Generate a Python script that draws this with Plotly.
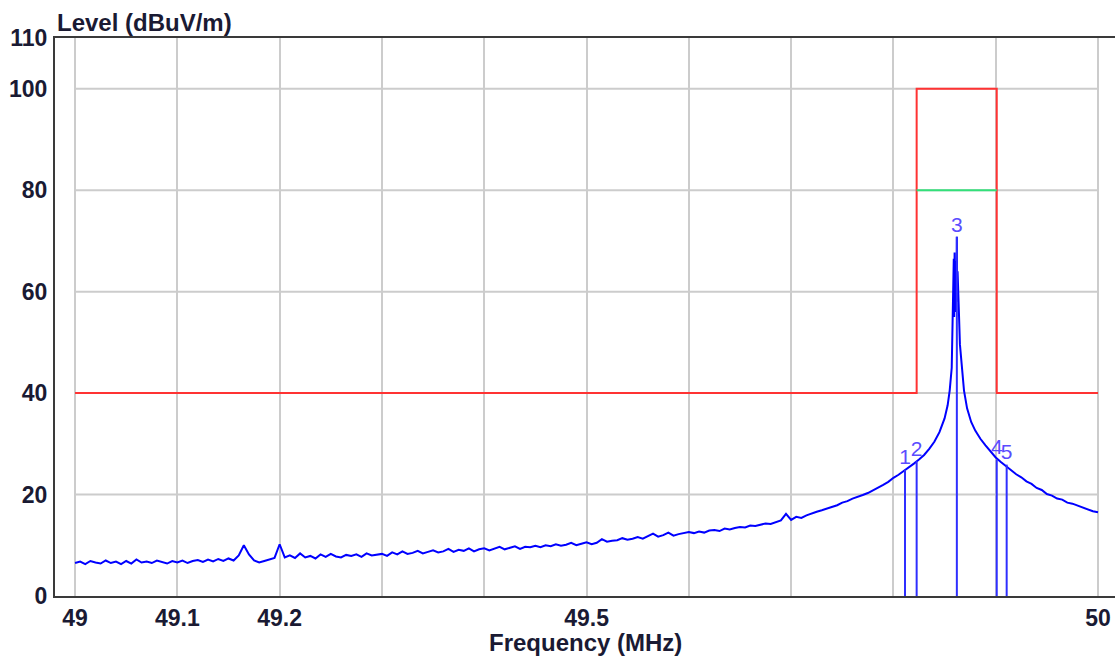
import plotly.graph_objects as go

# ---- data ----
# uniform sweep 49.000 .. 49.800 MHz, step 0.005 MHz
sweep_start = 49.0
sweep_step = 0.005
level_sweep = [
    6.5, 6.8, 6.3, 6.9, 6.6, 6.4, 7.0, 6.5, 6.8, 6.3,
    6.9, 6.4, 7.2, 6.6, 6.8, 6.5, 7.0, 6.7, 6.4, 6.9,
    6.6, 7.0, 6.5, 6.9, 7.1, 6.7, 7.2, 6.8, 7.3, 6.9,
    7.4, 7.0, 8.0, 10.0, 8.2, 7.0, 6.6, 6.9, 7.2, 7.5,
    10.2, 7.6, 8.0, 7.5, 8.4, 7.6, 7.9, 7.4, 8.2, 7.7,
    8.3, 7.8, 7.6, 8.1, 7.9, 8.2, 7.7, 8.4, 8.0, 8.1,
    8.3, 7.9, 8.6, 8.2, 8.8, 8.3, 8.5, 8.9, 8.4, 8.7,
    9.0, 8.6, 8.8, 9.3, 8.7, 9.1, 8.9, 9.4, 8.8, 9.2,
    9.4, 9.0, 9.3, 9.7, 9.2, 9.5, 9.8, 9.3, 9.7, 9.6,
    9.9, 9.6, 10.0, 9.8, 10.2, 9.9, 10.1, 10.5, 10.0, 10.3,
    10.6, 10.2, 10.5, 11.2, 10.7, 10.9, 11.0, 11.4, 11.1, 11.3,
    11.6, 11.3, 11.8, 12.3, 11.7, 12.0, 12.5, 11.9, 12.2, 12.4,
    12.6, 12.4, 12.7, 12.5, 12.9, 13.0, 12.8, 13.3, 13.1, 13.4,
    13.6, 13.5, 13.9, 13.8, 14.1, 14.3, 14.2, 14.6, 14.9, 16.2,
    15.0, 15.6, 15.4, 15.9, 16.3, 16.6, 16.9, 17.2, 17.6, 17.9,
    18.4, 18.7, 19.2, 19.5, 19.9, 20.3, 20.8, 21.3, 21.9, 22.5,
    23.3,
]
# peak region and upper band
freq_peak = [
    49.805, 49.810, 49.815, 49.820, 49.825, 49.830, 49.835, 49.840, 49.845,
    49.850, 49.853, 49.855, 49.857, 49.858, 49.8585, 49.859, 49.8594, 49.8598,
    49.8602, 49.8606, 49.861, 49.8614, 49.8618, 49.862, 49.8623, 49.8627,
    49.863, 49.8634, 49.864, 49.865, 49.867, 49.869, 49.872, 49.876, 49.880,
    49.885, 49.890, 49.895, 49.900, 49.905, 49.910, 49.915, 49.920, 49.925,
    49.930, 49.935, 49.940, 49.945, 49.950, 49.955, 49.960, 49.965, 49.970,
    49.975, 49.980, 49.985, 49.990, 49.995, 50.000,
]
level_peak = [
    23.9, 24.6, 25.3, 26.1, 26.9, 27.8, 29.0, 30.4, 32.3,
    35.0, 37.6, 40.5, 45.0, 53.0, 57.0, 66.5, 55.0, 67.7,
    56.0, 66.0, 57.0, 65.0, 58.0, 70.8, 59.0, 64.0,
    60.0, 63.7, 56.0, 49.6, 44.3, 40.5, 37.0, 34.3, 32.6,
    31.0, 29.7, 28.4, 27.3, 26.4, 25.6, 24.9, 24.0, 23.4,
    22.6, 22.1, 21.3, 20.9, 20.1, 19.8, 19.2, 19.0, 18.4,
    18.2, 17.8, 17.4, 17.1, 16.7, 16.5,
]

# limit lines
limit_freq = [49.0, 49.8227, 49.8227, 49.901, 49.901, 50.0]
limit_level = [40, 40, 100, 100, 40, 40]
limit2_freq = [49.8227, 49.901]
limit2_level = [80, 80]

# markers
marker_freq = [49.8113, 49.8227, 49.862, 49.901, 49.9107]
marker_level = [24.9, 26.6, 70.8, 26.9, 25.9]
marker_label = ["1", "2", "3", "4", "5"]

x_tickvals = [49.0, 49.1, 49.2, 49.3, 49.4, 49.5, 49.6, 49.7, 49.8, 49.9, 50.0]
x_ticktext = ["49", "49.1", "49.2", "", "", "49.5", "", "", "", "", "50"]
y_tickvals = [0, 20, 40, 60, 80, 100, 110]
y_gridvals = [20, 40, 60, 80, 100]

# ---- build ----
freq_sweep = [round(sweep_start + i * sweep_step, 4) for i in range(len(level_sweep))]
freq = freq_sweep + freq_peak
level = level_sweep + level_peak

FONT = "Liberation Sans, Arial, sans-serif"
TXT = "#1a1a33"

fig = go.Figure()

shapes = []
for yv in y_gridvals:
    shapes.append(dict(type="line", xref="x", yref="y", x0=49.0, x1=50.0, y0=yv, y1=yv,
                       line=dict(color="#cccccc", width=2), layer="below"))

fig.add_trace(go.Scatter(x=limit_freq, y=limit_level, mode="lines",
                         line=dict(color="#ff3333", width=2), hoverinfo="skip", showlegend=False))
fig.add_trace(go.Scatter(x=limit2_freq, y=limit2_level, mode="lines",
                         line=dict(color="#33e07a", width=2), hoverinfo="skip", showlegend=False))
fig.add_trace(go.Scatter(x=freq, y=level, mode="lines",
                         line=dict(color="#0000ff", width=2), showlegend=False))

# marker stems
mx, my = [], []
for f, v in zip(marker_freq, marker_level):
    mx += [f, f, None]
    my += [0, v, None]
fig.add_trace(go.Scatter(x=mx, y=my, mode="lines",
                         line=dict(color="#2f2fff", width=2), hoverinfo="skip", showlegend=False))
fig.add_trace(go.Scatter(x=marker_freq, y=marker_level, mode="text", text=marker_label,
                         textposition="top center",
                         textfont=dict(family=FONT, size=21, color="#5a4cff"),
                         hoverinfo="skip", showlegend=False))

tick_font = dict(family=FONT, size=23, color=TXT, weight="bold")

fig.update_layout(
    width=1115, height=662,
    margin=dict(l=55, r=0, t=38, b=66),
    paper_bgcolor="white", plot_bgcolor="white",
    shapes=shapes,
    xaxis=dict(range=[48.9804, 50.0166], tickvals=x_tickvals, ticktext=x_ticktext,
               automargin=False,
               showgrid=True, gridcolor="#cccccc", gridwidth=2, zeroline=False,
               showline=True, linecolor="#3a3a3a", linewidth=2, mirror=True,
               ticks="", tickfont=tick_font),
    yaxis=dict(range=[0, 110], tickvals=y_tickvals, ticktext=[str(v) for v in y_tickvals],
               automargin=False,
               showgrid=False, zeroline=False,
               showline=True, linecolor="#3a3a3a", linewidth=2,
               ticks="", tickfont=tick_font, ticklabelstandoff=1),
    annotations=[
        dict(text="<b>Level (dBuV/m)</b>", xref="paper", yref="paper", x=0, y=1,
             xanchor="left", yanchor="bottom", showarrow=False, yshift=0,
             font=dict(family=FONT, size=24, color=TXT)),
        dict(text="<b>Frequency (MHz)</b>", xref="paper", yref="paper", x=0.5, y=0,
             xanchor="center", yanchor="middle", showarrow=False, yshift=-46,
             font=dict(family=FONT, size=24, color=TXT)),
    ],
)

# remove the default 8px page margin so the figure fills the 1115x662 window exactly
fig.write_html("out.html",
               config={"displayModeBar": False},
               post_script="document.body.style.margin='0';document.body.style.overflow='hidden';")
